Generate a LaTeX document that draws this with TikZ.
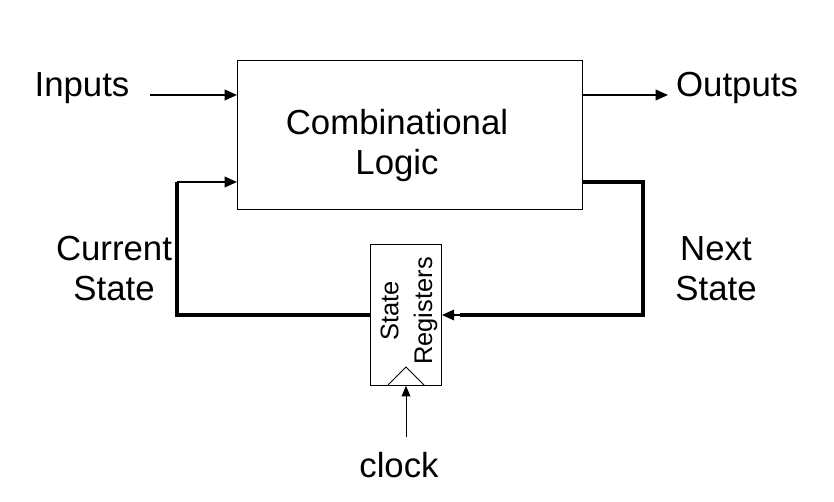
\documentclass[tikz,border=0pt]{standalone}
\usepackage{fontspec}
\setmainfont{Liberation Sans}
\usetikzlibrary{arrows.meta}
\tikzset{
	lbl/.style={font=\fontsize{19.8}{22.8}\selectfont, align=center, anchor=base},
	arr/.style={line width=1.1pt, -{Triangle[length=7pt,width=6pt]}},
	fb/.style={line width=2pt},
}

\begin{document}
\begin{tikzpicture}[x=0.02cm, y=-0.02cm]
				\useasboundingbox (0, 0) rectangle (834, 502);
				
				\node[draw, line width=0.5pt, minimum width=6.9cm, minimum height=2.98cm, anchor=north west] (logic) at (237, 60) {};
				\node[lbl] (comb) at (397, 175) {Combinational\\Logic};
				
				\node[lbl] (in) at (82, 97) {Inputs};
				\node[lbl] (out) at (737, 97) {Outputs};
				\coordinate (inS) at (150, 95);
				\coordinate (outE) at (668, 95);
				\draw[arr] (inS) -- (logic.west |- inS);
				\draw[arr] (logic.east |- outE) -- (outE);
				
				\node[draw, line width=0.5pt, minimum width=1.42cm, minimum height=2.82cm, anchor=north west] (reg) at (370, 244) {};
				\node[font=\fontsize{14.5}{19.3}\selectfont, rotate=90, align=center] (regtxt) at (409, 311) {State\\Registers};
				\draw[line width=0.5pt] (388, 385) -- (406, 367) -- (424, 385);
				
				% feedback loop
				\coordinate (lt) at (177, 182);
				\coordinate (lb) at (177, 315);
				\coordinate (rt) at (643, 182);
				\coordinate (rb) at (643, 315);
				\draw[fb] (reg.west |- lb) -- (lb) -- (lt);
				\draw[arr] (lt) -- (logic.west |- lt);
				\draw[fb] (logic.east |- rt) -- (rt) -- (rb) -- (460, 315);
				\draw[arr] (rb) -- (reg.east |- rb);
				
				\node[lbl] (cur) at (114, 301) {Current\\State};
				\node[lbl] (next) at (716, 301) {Next\\State};
				
				\node[lbl] (clk) at (399, 478) {clock};
				\coordinate (clkS) at (406, 437);
				\draw[line width=0.5pt, -{Triangle[length=6pt,width=5pt]}] (clkS) -- (clkS |- reg.south);
			\end{tikzpicture}
\end{document}
